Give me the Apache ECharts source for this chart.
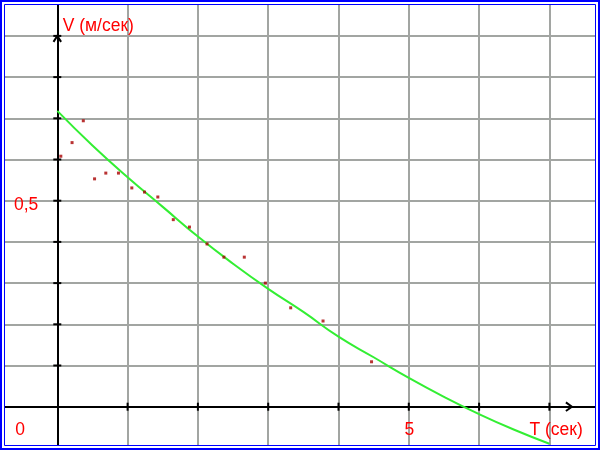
<!DOCTYPE html>
<html><head><meta charset="utf-8">
<script src="https://cdn.jsdelivr.net/npm/echarts@6/dist/echarts.min.js"></script>
<style>html,body{margin:0;padding:0;background:#fff}#c{width:600px;height:450px}</style>
</head><body><div id="c"></div>
<script>
// measured points (T sec, V m/s)
const measuredT = [0.05,0.21,0.37,0.53,0.69,0.87,1.06,1.24,1.43,1.65,1.88,2.13,2.37,2.66,2.96,3.32,3.78,4.47];
const measuredV = [0.608,0.641,0.694,0.553,0.567,0.567,0.531,0.521,0.509,0.454,0.436,0.395,0.363,0.363,0.300,0.240,0.208,0.109];
// fitted curve
const fitT = [0,0.5,1,1.5,2,2.5,3,3.5,4,4.5,5,5.5,6,6.5,7];
const fitV = [0.718,0.634,0.557,0.485,0.413,0.347,0.286,0.230,0.170,0.120,0.070,0.024,-0.018,-0.056,-0.090];
// ticks and tick labels
const xTicks = [1,2,3,4,5,6,7];
const yTicks = [-0.1,0.1,0.2,0.3,0.4,0.5,0.6,0.7,0.8,0.9];
const xTickValues = [5];
const xTickTexts = ['5'];
const yTickValues = [0.5];
const yTickTexts = ['0,5'];
const originLabel = '0';
const xAxisName = 'T (сек)';
const yAxisName = 'V (м/сек)';
const xArrowAt = 7.32;
const yArrowAt = 0.9;

const FONT = '"Liberation Sans", Arial, sans-serif';
const RED = '#ff0000';
const gridLine = { show: true, lineStyle: { color: '#a2a5a2', width: 2 } };
const axLine = { show: true, onZero: true, lineStyle: { color: '#000', width: 2 } };

const chart = echarts.init(document.getElementById('c'), null, { renderer: 'canvas' });
chart.setOption({
  animation: false,
  backgroundColor: '#fff',
  grid: { left: -13, right: -19.7, top: -5.3, bottom: -39.1, containLabel: false, outerBoundsMode: 'none' },
  xAxis: { type: 'value', min: -1, max: 8, interval: 1,
    axisLine: axLine, axisTick: { show: false }, splitLine: gridLine, axisLabel: { show: false } },
  yAxis: { type: 'value', min: -0.2, max: 1.0, interval: 0.1,
    axisLine: axLine, axisTick: { show: false }, splitLine: gridLine, axisLabel: { show: false } },
  series: [
    { type: 'line', smooth: true, showSymbol: false,
      lineStyle: { color: '#33ee33', width: 2 }, data: fitT.map((t, i) => [t, fitV[i]]), z: 3 },
    { type: 'scatter', symbol: 'rect', symbolSize: 3,
      itemStyle: { color: '#a80000' }, data: measuredT.map((t, i) => [t, measuredV[i]]), z: 4 }
  ]
});

const px = (t, v) => chart.convertToPixel({ gridIndex: 0 }, [t, v]);
const O = px(0, 0);
const g = [];
const blk = { stroke: '#000', lineWidth: 2 };
xTicks.forEach(t => { const p = px(t, 0); g.push({ type: 'line', shape: { x1: p[0], y1: p[1] - 4, x2: p[0], y2: p[1] + 4 }, style: blk, z: 50 }); });
yTicks.forEach(v => { const p = px(0, v); g.push({ type: 'line', shape: { x1: p[0] - 4, y1: p[1], x2: p[0] + 4, y2: p[1] }, style: blk, z: 50 }); });
const ya = px(0, yArrowAt);
g.push({ type: 'polyline', shape: { points: [[ya[0] - 3.8, ya[1] + 6], [ya[0], ya[1]], [ya[0] + 3.8, ya[1] + 6]] }, style: { stroke: '#000', lineWidth: 2, fill: 'none' }, z: 50 });
const xa = px(xArrowAt, 0);
g.push({ type: 'polyline', shape: { points: [[xa[0] - 6, xa[1] - 4.3], [xa[0], xa[1]], [xa[0] - 6, xa[1] + 4.3]] }, style: { stroke: '#000', lineWidth: 2, fill: 'none' }, z: 50 });
const txt = (text, x, y, align) => ({ type: 'text', x: x, y: y, style: { text: text, fill: RED, font: '17.5px ' + FONT, align: align, verticalAlign: 'middle' }, z: 60 });
yTickValues.forEach((v, i) => { const p = px(0, v); g.push(txt(yTickTexts[i], p[0] - 19, p[1] + 4.8, 'right')); });
xTickValues.forEach((t, i) => { const p = px(t, 0); g.push(txt(xTickTexts[i], p[0] + 0.5, p[1] + 23, 'center')); });
g.push(txt(originLabel, O[0] - 37.3, O[1] + 23, 'center'));
const xn = px(7, 0);
g.push(txt(xAxisName, xn[0] - 20, O[1] + 23.3, 'left'));
const yn = px(0, 0.9);
g.push(txt(yAxisName, O[0] + 5.4, yn[1] - 9.7, 'left'));
g.push({ type: 'rect', shape: { x: 0, y: 0, width: 600, height: 450 }, style: { fill: 'none', stroke: '#fff', lineWidth: 8 }, z: 100, silent: true });
g.push({ type: 'rect', shape: { x: 0, y: 0, width: 600, height: 450 }, style: { fill: 'none', stroke: '#0000ff', lineWidth: 4 }, z: 101, silent: true });
g.push({ type: 'rect', shape: { x: 4.5, y: 4.5, width: 591, height: 441 }, style: { fill: 'none', stroke: '#0000ff', lineWidth: 1 }, z: 101, silent: true });
chart.setOption({ graphic: g });
</script></body></html>
